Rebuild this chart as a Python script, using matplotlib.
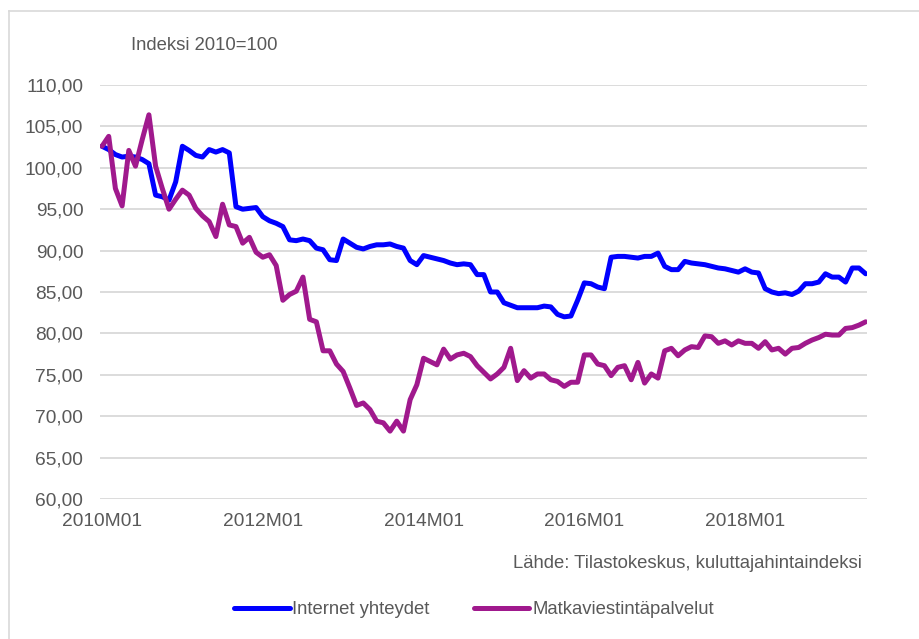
import matplotlib.pyplot as plt
import matplotlib.lines as mlines

# kuukausittainen indeksi 2010M01 - 2019M07
internet = [
    102.6, 102.2, 101.6, 101.3, 101.4, 101.3, 101.0, 100.5, 96.7, 96.5,
    96.1, 98.3, 102.6, 102.1, 101.5, 101.3, 102.2, 101.9, 102.2, 101.8,
    95.3, 95.0, 95.1, 95.2, 94.1, 93.6, 93.3, 92.9, 91.3, 91.2,
    91.4, 91.2, 90.3, 90.1, 88.9, 88.8, 91.4, 90.9, 90.4, 90.2,
    90.5, 90.7, 90.7, 90.8, 90.5, 90.3, 88.8, 88.3, 89.4, 89.2,
    89.0, 88.8, 88.5, 88.3, 88.4, 88.3, 87.1, 87.1, 85.0, 85.0,
    83.7, 83.4, 83.1, 83.1, 83.1, 83.1, 83.3, 83.2, 82.3, 82.0,
    82.1, 84.0, 86.1, 86.0, 85.6, 85.4, 89.2, 89.3, 89.3, 89.2,
    89.1, 89.3, 89.3, 89.7, 88.1, 87.7, 87.7, 88.7, 88.5, 88.4,
    88.3, 88.1, 87.9, 87.8, 87.6, 87.4, 87.8, 87.4, 87.3, 85.4,
    85.0, 84.8, 84.9, 84.7, 85.1, 86.0, 86.0, 86.2, 87.2, 86.8,
    86.8, 86.2, 87.9, 87.9, 87.2,
]
mobiili = [
    102.6, 103.8, 97.5, 95.4, 102.1, 100.2, 103.4, 106.4, 100.2, 97.5,
    95.0, 96.2, 97.3, 96.7, 95.1, 94.2, 93.5, 91.7, 95.6, 93.1,
    92.9, 90.9, 91.6, 89.8, 89.2, 89.5, 88.2, 84.0, 84.7, 85.1,
    86.8, 81.7, 81.4, 77.9, 77.9, 76.3, 75.4, 73.4, 71.3, 71.6,
    70.8, 69.4, 69.2, 68.2, 69.4, 68.2, 72.0, 73.8, 77.0, 76.6,
    76.2, 78.1, 76.9, 77.4, 77.6, 77.2, 76.1, 75.3, 74.5, 75.1,
    75.9, 78.2, 74.3, 75.5, 74.6, 75.1, 75.1, 74.4, 74.2, 73.6,
    74.1, 74.1, 77.4, 77.4, 76.3, 76.1, 74.9, 75.9, 76.1, 74.4,
    76.5, 74.0, 75.1, 74.6, 77.9, 78.2, 77.3, 78.0, 78.4, 78.3,
    79.7, 79.6, 78.8, 79.1, 78.6, 79.1, 78.8, 78.8, 78.2, 79.0,
    78.0, 78.2, 77.5, 78.2, 78.3, 78.8, 79.2, 79.5, 79.9, 79.8,
    79.8, 80.6, 80.7, 81.0, 81.4,
]
kuukaudet = [f"{2010 + i // 12}M{i % 12 + 1:02d}" for i in range(len(internet))]
y_ticks = [60, 65, 70, 75, 80, 85, 90, 95, 100, 105, 110]

SININEN = "#0000FF"
VIOLETTI = "#A0198D"
HARMAA = "#595959"
plt.rcParams["font.family"] = ["Liberation Sans", "DejaVu Sans"]

fig = plt.figure(figsize=(9.2, 6.39), dpi=100)
ax = fig.add_axes([100 / 920, 1 - 499 / 639, 767 / 920, 414 / 639])

x = list(range(len(internet)))
ax.plot(x, internet, color=SININEN, lw=3.6, solid_capstyle="round", solid_joinstyle="round")
ax.plot(x, mobiili, color=VIOLETTI, lw=3.6, solid_capstyle="round", solid_joinstyle="round")

ax.set_ylim(60, 110)
ax.set_xlim(-0.3, len(x) - 1 + 0.2)
ax.set_yticks(y_ticks)
ax.set_yticklabels([f"{v:.2f}".replace(".", ",") for v in y_ticks])
ax.set_xticks(x[::24])
ax.set_xticklabels(kuukaudet[::24])
ax.tick_params(length=0, labelsize=13.8, colors=HARMAA)
ax.tick_params(axis="y", pad=12)
ax.tick_params(axis="x", pad=10)
ax.grid(axis="y", color="#D9D9D9", lw=1.3)
ax.set_axisbelow(True)
for s in ax.spines.values():
    s.set_visible(False)

fig.text(131 / 920, 1 - 45 / 639, "Indeksi 2010=100", fontsize=13.3, color=HARMAA, va="center")
fig.text(862 / 920, 1 - 563 / 639, "Lähde: Tilastokeskus, kuluttajahintaindeksi",
         fontsize=13.3, color=HARMAA, ha="right", va="center")

# selite
h1 = mlines.Line2D([], [], color=SININEN, lw=3.6, solid_capstyle="round")
h2 = mlines.Line2D([], [], color=VIOLETTI, lw=3.6, solid_capstyle="round")
fig.legend([h1, h2], ["Internet yhteydet", "Matkaviestintäpalvelut"],
           loc="center", bbox_to_anchor=(474 / 920, 1 - 610 / 639), ncol=2,
           frameon=False, fontsize=13.3, handlelength=3.0, handletextpad=0.15,
           columnspacing=2.4, labelcolor=HARMAA)

# kehys
fig.add_artist(mlines.Line2D([9 / 920, 1], [1 - 11 / 639] * 2, color="#D9D9D9", lw=1.2))
fig.add_artist(mlines.Line2D([9 / 920] * 2, [0, 1 - 11 / 639], color="#D9D9D9", lw=1.2))

fig.savefig("out.png", dpi=100)
